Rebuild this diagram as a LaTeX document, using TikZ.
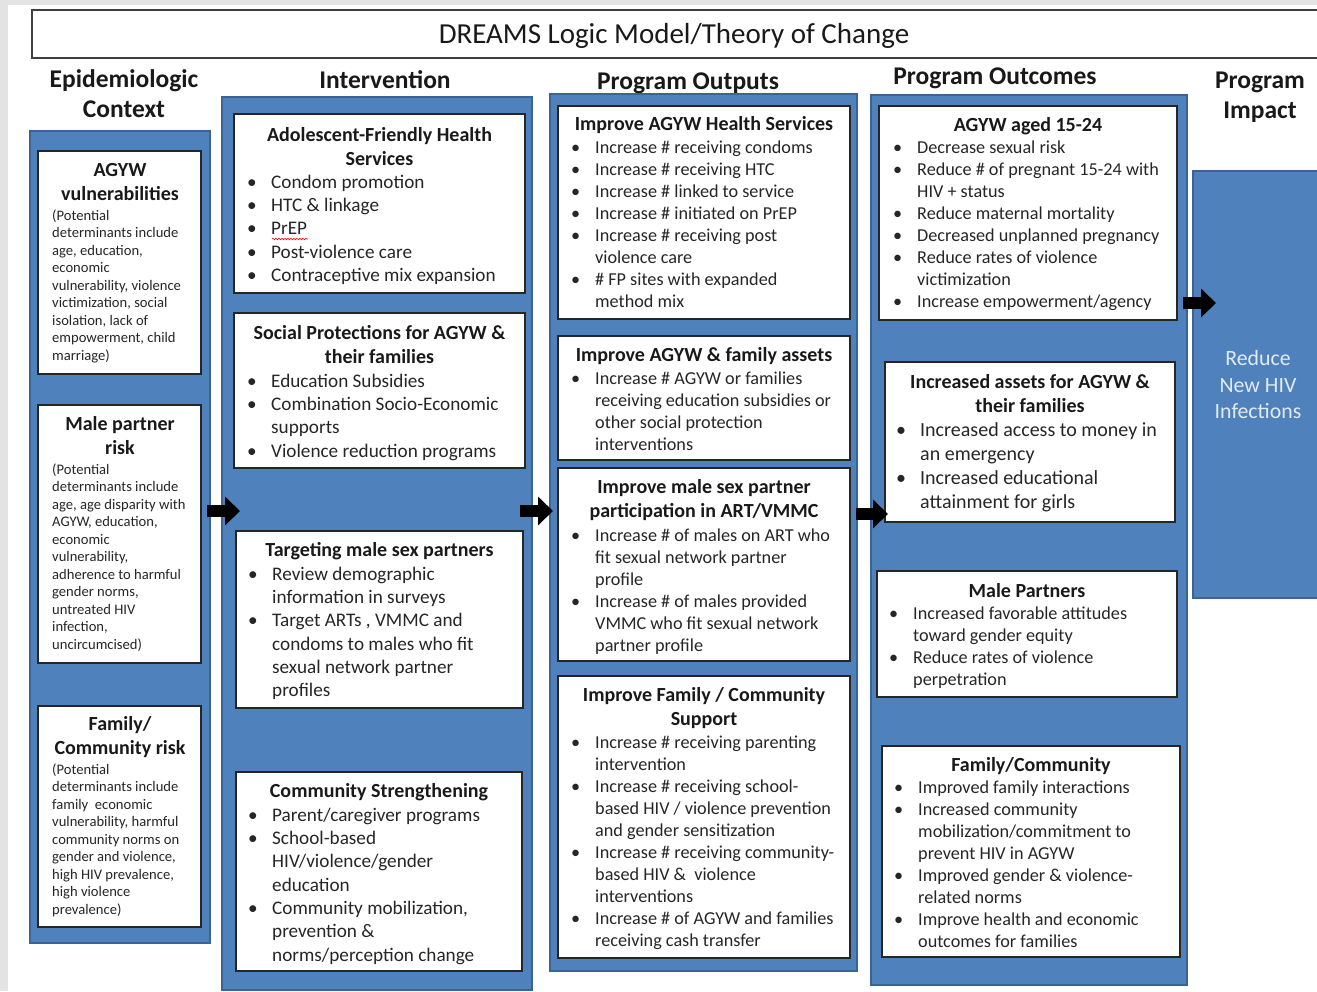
\documentclass[tikz,border=0pt]{standalone}
\usepackage{fontspec}
\setmainfont{Carlito}
\usetikzlibrary{fit,arrows.meta,decorations.pathmorphing}
\definecolor{colblue}{HTML}{4F81BD}
\definecolor{coledge}{HTML}{3A6494}
\definecolor{txt}{HTML}{262626}
\definecolor{impact}{HTML}{E2EAF4}
\definecolor{framegray}{HTML}{E3E3E3}
\newcommand\bu{\makebox[24pt][l]{\textbullet}}
\newcommand\ct{\hspace*{24pt}}
\tikzset{
 col/.style={fill=colblue, draw=coledge, line width=2.2pt, inner sep=0pt},
 wbox/.style={fill=white, draw=black!85, line width=1.4pt, inner sep=0pt},
 head/.style={font=\fontsize{25.5}{30}\selectfont\bfseries, align=center, anchor=north, inner sep=0pt, text=black!90},
 ttl/.style={font=\fontsize{20}{23.5}\selectfont\bfseries, align=center, anchor=north, inner sep=0pt, text=black!90},
 ttlL/.style={font=\fontsize{20}{24}\selectfont\bfseries, align=center, anchor=north, inner sep=0pt, text=black!90},
 smalltxt/.style={font=\fontsize{14.6}{17.5}\selectfont, align=left, anchor=north west, inner sep=0pt, text=txt},
 lstA/.style={font=\fontsize{19.2}{23.3}\selectfont, align=left, anchor=north west, inner sep=0pt, text=txt},
 lstB/.style={font=\fontsize{18.2}{22}\selectfont, align=left, anchor=north west, inner sep=0pt, text=txt},
 lstC/.style={font=\fontsize{20}{24}\selectfont, align=left, anchor=north west, inner sep=0pt, text=txt},
 blk/.style={line width=12pt, -{Triangle[length=15pt,width=28pt]}, black},
}
\begin{document}
\begin{tikzpicture}[x=1pt,y=-1pt]
\useasboundingbox (0,0) rectangle (1317,991);
\clip (0,0) rectangle (1317,991);
\fill[white] (0,0) rectangle (1317,991);
\fill[framegray] (0,0) rectangle (1317,5);
\fill[framegray] (0,0) rectangle (8,991);

% title
\node[fit={(32,10)(1340,58)}, inner sep=0pt, draw=black!75, line width=1.3pt] (titlebox) {};
\node[font=\fontsize{29}{33}\selectfont, inner sep=0pt, text=black!90] (titletext) at (674,36) {DREAMS Logic Model/Theory of Change};

% headings
\node[head] (h1) at (124,66.5) {\strut Epidemiologic\\Context};
\node[head] (h2) at (385,67.5) {\strut Intervention};
\node[head] (h3) at (688,68.5) {\strut Program Outputs};
\node[head] (h4) at (995,63.5) {\strut Program Outcomes};
\node[head] (h5) at (1260,67.5) {\strut Program\\Impact};

% columns
\node[col, fit={(30,131)(210,943)}] (c1) {};
\node[col, fit={(222,97)(532,990)}] (c2) {};
\node[col, fit={(550,94)(857,971)}] (c3) {};
\node[col, fit={(871,95)(1187,985)}] (c4) {};
\node[col, fit={(1193,171)(1324,598)}] (c5) {};

% column 1
\node[wbox, fit={(38,151)(201,374)}] (b11) {};
\node[ttlL] (b11t) at (120,159.2) {\strut AGYW\\vulnerabilities};
\node[smalltxt] (b11l) at (52,207.75) {\strut (Potential\\determinants include\\age, education,\\economic\\vulnerability, violence\\victimization, social\\isolation, lack of\\empowerment, child\\marriage)};

\node[wbox, fit={(38,405)(201,663)}] (b12) {};
\node[ttlL] (b12t) at (120,413.2) {\strut Male partner\\risk};
\node[smalltxt] (b12l) at (52,461.75) {\strut (Potential\\determinants include\\age, age disparity with\\AGYW, education,\\economic\\vulnerability,\\adherence to harmful\\gender norms,\\untreated HIV\\infection,\\uncircumcised)};

\node[wbox, fit={(38,706)(201,927)}] (b13) {};
\node[ttlL] (b13t) at (120,713.2) {\strut Family/\\Community risk};
\node[smalltxt] (b13l) at (52,761.75) {\strut (Potential\\determinants include\\family\ \ economic\\vulnerability, harmful\\community norms on\\gender and violence,\\high HIV prevalence,\\high violence\\prevalence)};

% column 2
\node[wbox, fit={(234,114)(525,293)}] (b21) {};
\node[ttl] (b21t) at (379.5,125) {\strut Adolescent-Friendly Health\\Services};
\node[lstA] (b21l) at (247,171.7) {\strut\bu Condom promotion\\\bu HTC \& linkage\\\bu PrEP\\\bu Post-violence care\\\bu Contraceptive mix expansion};
\draw[red, line width=0.6pt, decorate, decoration={snake, amplitude=0.8pt, segment length=3pt}] (272,239) -- (308,239);

\node[wbox, fit={(234,313)(525,468)}] (b22) {};
\node[ttl] (b22t) at (379.5,323) {\strut Social Protections for AGYW \&\\their families};
\node[lstA] (b22l) at (247,370.7) {\strut\bu Education Subsidies\\\bu Combination Socio-Economic\\\ct supports\\\bu Violence reduction programs};

\node[wbox, fit={(236,531)(523,708)}] (b23) {};
\node[ttl] (b23t) at (379.5,540) {\strut Targeting male sex partners};
\node[lstA] (b23l) at (248,563.7) {\strut\bu Review demographic\\\ct information in surveys\\\bu Target ARTs , VMMC and\\\ct condoms to males who fit\\\ct sexual network partner\\\ct profiles};

\node[wbox, fit={(236,772)(522,971)}] (b24) {};
\node[ttl] (b24t) at (379,781) {\strut Community Strengthening};
\node[lstA] (b24l) at (248,804.7) {\strut\bu Parent/caregiver programs\\\bu School-based\\\ct HIV/violence/gender\\\ct education\\\bu Community mobilization,\\\ct prevention \&\\\ct norms/perception change};

% column 3
\node[wbox, fit={(558,106)(850,319)}] (b31) {};
\node[ttl] (b31t) at (704,114) {\strut Improve AGYW Health Services};
\node[lstB] (b31l) at (571,137.5) {\strut\bu Increase \# receiving condoms\\\bu Increase \# receiving HTC\\\bu Increase \# linked to service\\\bu Increase \# initiated on PrEP\\\bu Increase \# receiving post\\\ct violence care\\\bu \# FP sites with expanded\\\ct method mix};

\node[wbox, fit={(558,336)(850,460)}] (b32) {};
\node[ttl] (b32t) at (704,345) {\strut Improve AGYW \& family assets};
\node[lstB] (b32l) at (571,368.5) {\strut\bu Increase \# AGYW or families\\\ct receiving education subsidies or\\\ct other social protection\\\ct interventions};

\node[wbox, fit={(558,468)(850,661)}] (b33) {};
\node[ttl] (b33t) at (704,477) {\strut Improve male sex partner\\participation in ART/VMMC};
\node[lstB] (b33l) at (571,525.5) {\strut\bu Increase \# of males on ART who\\\ct fit sexual network partner\\\ct profile\\\bu Increase \# of males provided\\\ct VMMC who fit sexual network\\\ct partner profile};

\node[wbox, fit={(558,676)(850,958)}] (b34) {};
\node[ttl] (b34t) at (704,685) {\strut Improve Family / Community\\Support};
\node[lstB] (b34l) at (571,732.5) {\strut\bu Increase \# receiving parenting\\\ct intervention\\\bu Increase \# receiving school-\\\ct based HIV / violence prevention\\\ct and gender sensitization\\\bu Increase \# receiving community-\\\ct based HIV \&\ \ violence\\\ct interventions\\\bu Increase \# of AGYW and families\\\ct receiving cash transfer};

% column 4
\node[wbox, fit={(879,106)(1177,320)}] (b41) {};
\node[ttl] (b41t) at (1028,115) {\strut AGYW aged 15-24};
\node[lstB] (b41l) at (893,137.5) {\strut\bu Decrease sexual risk\\\bu Reduce \# of pregnant 15-24 with\\\ct HIV + status\\\bu Reduce maternal mortality\\\bu Decreased unplanned pregnancy\\\bu Reduce rates of violence\\\ct victimization\\\bu Increase empowerment/agency};

\node[wbox, fit={(885,362)(1175,522)}] (b42) {};
\node[ttl] (b42t) at (1030,372) {\strut Increased assets for AGYW \&\\their families};
\node[lstC] (b42l) at (896,419.5) {\strut\bu Increased access to money in\\\ct an emergency\\\bu Increased educational\\\ct attainment for girls};

\node[wbox, fit={(877,571)(1177,697)}] (b43) {};
\node[ttl] (b43t) at (1027,581) {\strut Male Partners};
\node[lstB] (b43l) at (889,603.5) {\strut\bu Increased favorable attitudes\\\ct toward gender equity\\\bu Reduce rates of violence\\\ct perpetration};

\node[wbox, fit={(882,746)(1180,957)}] (b44) {};
\node[ttl] (b44t) at (1031,755) {\strut Family/Community};
\node[lstB] (b44l) at (894,777.5) {\strut\bu Improved family interactions\\\bu Increased community\\\ct mobilization/commitment to\\\ct prevent HIV in AGYW\\\bu Improved gender \& violence-\\\ct related norms\\\bu Improve health and economic\\\ct outcomes for families};

% column 5
\node[font=\fontsize{21.8}{26.5}\selectfont, align=center, anchor=north, inner sep=0pt, text=impact] (impacttext) at (1258,347) {\strut Reduce\\New HIV\\Infections};

% arrows
\coordinate (a1s) at (207,511);
\coordinate (a1e) at (240,511);
\coordinate (a2s) at (520,511);
\coordinate (a2e) at (553,511);
\coordinate (a3s) at (856,514);
\coordinate (a3e) at (888,514);
\coordinate (a4s) at (1183,303);
\coordinate (a4e) at (1216,303);
\draw[blk] (a1s) -- (a1e);
\draw[blk] (a2s) -- (a2e);
\draw[blk] (a3s) -- (a3e);
\draw[blk] (a4s) -- (a4e);
\end{tikzpicture}
\end{document}
